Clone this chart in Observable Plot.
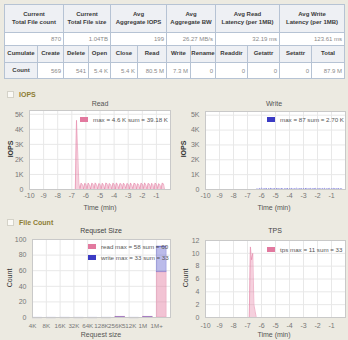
<!DOCTYPE html>
<html>
<head>
<meta charset="utf-8">
<script src="https://cdn.jsdelivr.net/npm/d3@7"></script>
<script src="https://cdn.jsdelivr.net/npm/@observablehq/plot@0.6"></script>
<style>
  html, body { margin: 0; padding: 0; background: #eceae1; }
  #page { position: relative; width: 348px; height: 340px; overflow: hidden;
          font-family: "Liberation Sans", Arial, sans-serif; color: #444; }
  #stats { position: absolute; left: 4px; top: 4px; width: 340px; border-collapse: collapse;
           table-layout: fixed; font-size: 6px; }
  #stats th, #stats td { border: 1px solid #b6c3d4; padding: 0 2px; overflow: hidden; white-space: nowrap; }
  #stats th { background: #eef0f4; color: #3a3a3a; font-weight: bold; text-align: center; line-height: 7.5px; padding: 0; }
  #stats th.pre { white-space: pre-line; }
  #stats td { background: #fff; color: #8a8a8a; text-align: right; }
  .txt { position: absolute; transform: translate(-50%, -50%); white-space: nowrap; font-size: 7px; line-height: 8px; }
  .sec { position: absolute; left: 7px; font-size: 7px; font-weight: bold; color: #8d7d33; line-height: 8px; }
  .sec i { display: inline-block; width: 5px; height: 5px; border: 1px solid #d4d2c8; background: #fbfaf6;
           margin-right: 5px; vertical-align: -1px; }
  .chart { position: absolute; }
  .legend { position: absolute; font-size: 6.2px; color: #555; line-height: 11px; white-space: nowrap; }
  .legend span { display: inline-block; width: 8px; height: 5px; margin-right: 5px; vertical-align: 0px; }
</style>
</head>
<body>
<div id="page"></div>
<script>
// ---- summary table ----
const summaryHeaders = ["Current\nTotal File count", "Current\nTotal File size", "Avg\nAggregate IOPS",
                        "Avg\nAggregate BW", "Avg Read\nLatency (per 1MB)", "Avg Write\nLatency (per 1MB)"];
const summaryValues = ["870", "1.04TB", "199", "26.27 MB/s", "32.19 ms", "123.61 ms"];
const opHeaders = ["Cumulate", "Create", "Delete", "Open", "Close", "Read", "Write",
                   "Rename", "Readdir", "Getattr", "Setattr", "Total"];
const opRowLabel = "Count";
const opCounts = ["569", "541", "5.4 K", "5.4 K", "80.5 M", "7.3 M", "0", "0", "0", "0", "87.9 M"];

// ---- IOPS time series (sampled every 5 s, minutes before now) ----
const sampleStep = 1 / 12;
const readStart = -6.75;
const readIops = [0, 4600, 2500, 380, 60, 420, 330, 40, 400, 360, 50, 430, 290, 30, 410, 370, 60,
  440, 310, 40, 390, 350, 50, 420, 300, 30, 430, 380, 60, 400, 320, 40, 410, 360, 30, 440, 300,
  50, 390, 370, 40, 420, 310, 60, 400, 350, 30, 430, 290, 50, 410, 380, 40, 390, 320, 30, 420,
  360, 60, 440, 300, 40, 400, 370, 50, 410, 330, 30, 430, 350, 60, 390, 310, 40, 420, 380, 0];
const writeStart = -6.33;
const writeIops = [35, 8, 62, 20, 87, 12, 48, 30, 70, 5, 55, 25, 80, 15, 40, 60, 10, 72, 28, 50, 18,
  66, 36, 9, 58, 22, 76, 14, 44, 32, 68, 6, 52, 26, 84, 16, 46, 38, 64, 11, 56, 24, 78, 19, 42, 34,
  70, 7, 54, 29, 82, 13, 47, 37, 61, 10, 59, 21, 74, 17, 45, 31, 67, 8, 50, 27, 79, 15, 43, 35, 63,
  12, 57, 23];
const timeTicks = [-10, -9, -8, -7, -6, -5, -4, -3, -2, -1];
const iopsTicks = [0, 1000, 2000, 3000, 4000, 5000];

// ---- file count ----
const requestSizes = ["4K", "8K", "16K", "32K", "64K", "128K", "256K", "512K", "1M", "1M+"];
const readCounts = [0, 0, 0, 0, 0, 0, 1, 0, 1, 58];
const writeCounts = [0, 0, 0, 0, 0, 0, 0, 0, 0, 33];
const countTicks = [0, 20, 40, 60, 80, 100];
const tpsStart = -6.875;
const tpsValues = [0, 11, 9, 10, 2, 1, 0];
const tpsTicks = [0, 2, 4, 6, 8, 10, 12];

const legends = {
  read: "max = 4.6 K sum = 39.18 K",
  write: "max = 87 sum = 2.70 K",
  sizeRead: "read max = 58 sum = 60",
  sizeWrite: "write max = 33 sum = 33",
  tps: "tps max = 11 sum = 33"
};

const PINK = "#e2799f", BLUE = "#3b3bc4", GRID = "#e8e8e8", FRAME = "#c9c9c9";
const page = document.getElementById("page");

// table
const table = document.createElement("table");
table.id = "stats";
const colW = [33, 26, 25, 22, 27, 29, 24, 25, 32, 32, 32, 33];
let html = "<colgroup>" + colW.map(w => `<col style="width:${w}px">`).join("") + "</colgroup>";
html += `<tr style="height:28px">` + summaryHeaders.map(h => `<th class="pre" colspan="2">${h}</th>`).join("") + "</tr>";
html += `<tr style="height:13px">` + summaryValues.map(v => `<td colspan="2">${v}</td>`).join("") + "</tr>";
html += `<tr style="height:17px">` + opHeaders.map(h => `<th>${h}</th>`).join("") + "</tr>";
html += `<tr style="height:16px"><th>${opRowLabel}</th>` + opCounts.map(v => `<td>${v}</td>`).join("") + "</tr>";
table.innerHTML = html;
page.appendChild(table);

function text(str, x, y, style = "") {
  const d = document.createElement("div");
  d.className = "txt";
  d.style.cssText = `left:${x}px;top:${y}px;${style}`;
  d.textContent = str;
  page.appendChild(d);
}
function vtext(str, x, y, style = "") {
  text(str, x, y, `transform:translate(-50%,-50%) rotate(-90deg);${style}`);
}
function section(str, y) {
  const d = document.createElement("div");
  d.className = "sec";
  d.style.top = y + "px";
  d.innerHTML = "<i></i>";
  d.appendChild(document.createTextNode(str));
  page.appendChild(d);
}
function legend(rows, x, y) {
  const d = document.createElement("div");
  d.className = "legend";
  d.style.left = x + "px";
  d.style.top = y + "px";
  d.innerHTML = rows.map(([c, t]) => `<div><span style="background:${c}"></span>${t}</div>`).join("");
  page.appendChild(d);
}
function place(svg, x, y) {
  const d = document.createElement("div");
  d.className = "chart";
  d.style.left = x + "px";
  d.style.top = y + "px";
  d.appendChild(svg);
  page.appendChild(d);
}

const series = (start, values) => values.map((v, i) => ({t: start + i * sampleStep, v}));
const kFormat = d => d === 0 ? "0" : d / 1000 + "K";
const plainFormat = d => String(d);
const baseStyle = {fontSize: "7px", fontFamily: "Liberation Sans, Arial, sans-serif", color: "#777",
                   background: "transparent", overflow: "visible"};

function timeChart({data, color, filled, ml, width, height, mt, mb, yDomain, yTicks, yFormat, xPad}) {
  const marks = [
    Plot.frame({fill: "white", stroke: null}),
    Plot.ruleX(timeTicks.slice(1), {stroke: GRID}),
    Plot.ruleY(yTicks.slice(1), {stroke: GRID})
  ];
  if (filled) {
    marks.push(Plot.areaY(data, {x: "t", y: "v", fill: color, fillOpacity: 0.35}));
    marks.push(Plot.lineY(data, {x: "t", y: "v", stroke: color, strokeWidth: 0.7, strokeOpacity: 0.75}));
  } else {
    marks.push(Plot.lineY(data, {x: "t", y: "v", stroke: color, strokeWidth: 0.9, strokeOpacity: 0.7,
                                 strokeDasharray: "1.2 1"}));
  }
  marks.push(Plot.frame({stroke: FRAME}));
  return Plot.plot({
    width, height, marginLeft: ml, marginRight: 3, marginTop: mt, marginBottom: mb,
    style: baseStyle,
    x: {domain: [-10, 0], ticks: timeTicks, tickSize: 0, tickPadding: xPad, tickFormat: plainFormat, label: null},
    y: {domain: yDomain, ticks: yTicks, tickSize: 0, tickPadding: 6, tickFormat: yFormat, label: null},
    marks
  });
}

// ---- IOPS section ----
section("IOPS", 91);
text("Read", 100, 104, "color:#555");
text("Write", 274, 104, "color:#555");
place(timeChart({data: series(readStart, readIops), color: PINK, filled: true, ml: 29, width: 173,
  height: 104, mt: 10, mb: 15, yDomain: [0, 5250], yTicks: iopsTicks, yFormat: kFormat, xPad: 4}), 0, 100);
place(timeChart({data: series(writeStart, writeIops), color: BLUE, filled: false, ml: 31, width: 174,
  height: 104, mt: 11, mb: 15, yDomain: [0, 5250], yTicks: iopsTicks, yFormat: kFormat, xPad: 4}), 174, 100);
vtext("IOPS", 11, 149, "font-weight:bold;color:#333");
vtext("IOPS", 184, 149, "font-weight:bold;color:#333");
text("Time (min)", 100, 208, "color:#555");
text("Time (min)", 274, 208, "color:#555");
legend([[PINK, legends.read]], 80, 114);
legend([[BLUE, legends.write]], 267, 114);

// ---- File Count section ----
section("File Count", 219);
text("Requset Size", 101, 231, "color:#444");
text("TPS", 275, 231, "color:#444");

const bars = requestSizes.map((s, i) => ({i, read: readCounts[i], write: writeCounts[i]}));
const sizeChart = Plot.plot({
  width: 174, height: 104, marginLeft: 32, marginRight: 4, marginTop: 9, marginBottom: 17,
  style: baseStyle,
  x: {domain: [0, 10], ticks: d3.range(requestSizes.length), tickFormat: i => requestSizes[i],
      tickSize: 0, tickPadding: 6, label: null},
  y: {domain: [0, 100], ticks: countTicks, tickSize: 0, tickPadding: 6, label: null},
  marks: [
    Plot.frame({fill: "white", stroke: null}),
    Plot.ruleX(d3.range(1, requestSizes.length), {stroke: GRID}),
    Plot.ruleY(countTicks.slice(1), {stroke: GRID}),
    Plot.rect(bars, {x1: "i", x2: d => d.i + 0.72, y1: 0, y2: "read",
                     fill: PINK, fillOpacity: 0.45, stroke: PINK, strokeOpacity: 0.5, strokeWidth: 0.6}),
    Plot.rect(bars, {x1: "i", x2: d => d.i + 0.72, y1: "read", y2: d => d.read + d.write,
                     fill: BLUE, fillOpacity: 0.35, stroke: BLUE, strokeOpacity: 0.4, strokeWidth: 0.6}),
    Plot.ruleY(bars, {y: d => d.read + d.write, x1: "i", x2: d => d.i + 0.72,
                      stroke: BLUE, strokeOpacity: 0.45, strokeWidth: 1.2}),
    Plot.frame({stroke: FRAME})
  ]
});
sizeChart.querySelectorAll("g[aria-label='x-axis tick label'] text, g[aria-label='x-axis'] text")
  .forEach(t => t.setAttribute("font-size", "6.2px"));
place(sizeChart, 0, 230);

place(timeChart({data: series(tpsStart, tpsValues), color: PINK, filled: true, ml: 31, width: 174,
  height: 104, mt: 10, mb: 17, yDomain: [0, 12], yTicks: tpsTicks, yFormat: plainFormat, xPad: 6}), 174, 230);

vtext("Count", 10, 278, "color:#333");
vtext("Count", 186, 278, "color:#333");
text("Request size", 101, 335, "color:#555");
text("Time (min)", 274, 335, "color:#555");
legend([[PINK, legends.sizeRead], [BLUE, legends.sizeWrite]], 88, 241);
legend([[PINK, legends.tps]], 267, 244);
</script>
</body>
</html>
